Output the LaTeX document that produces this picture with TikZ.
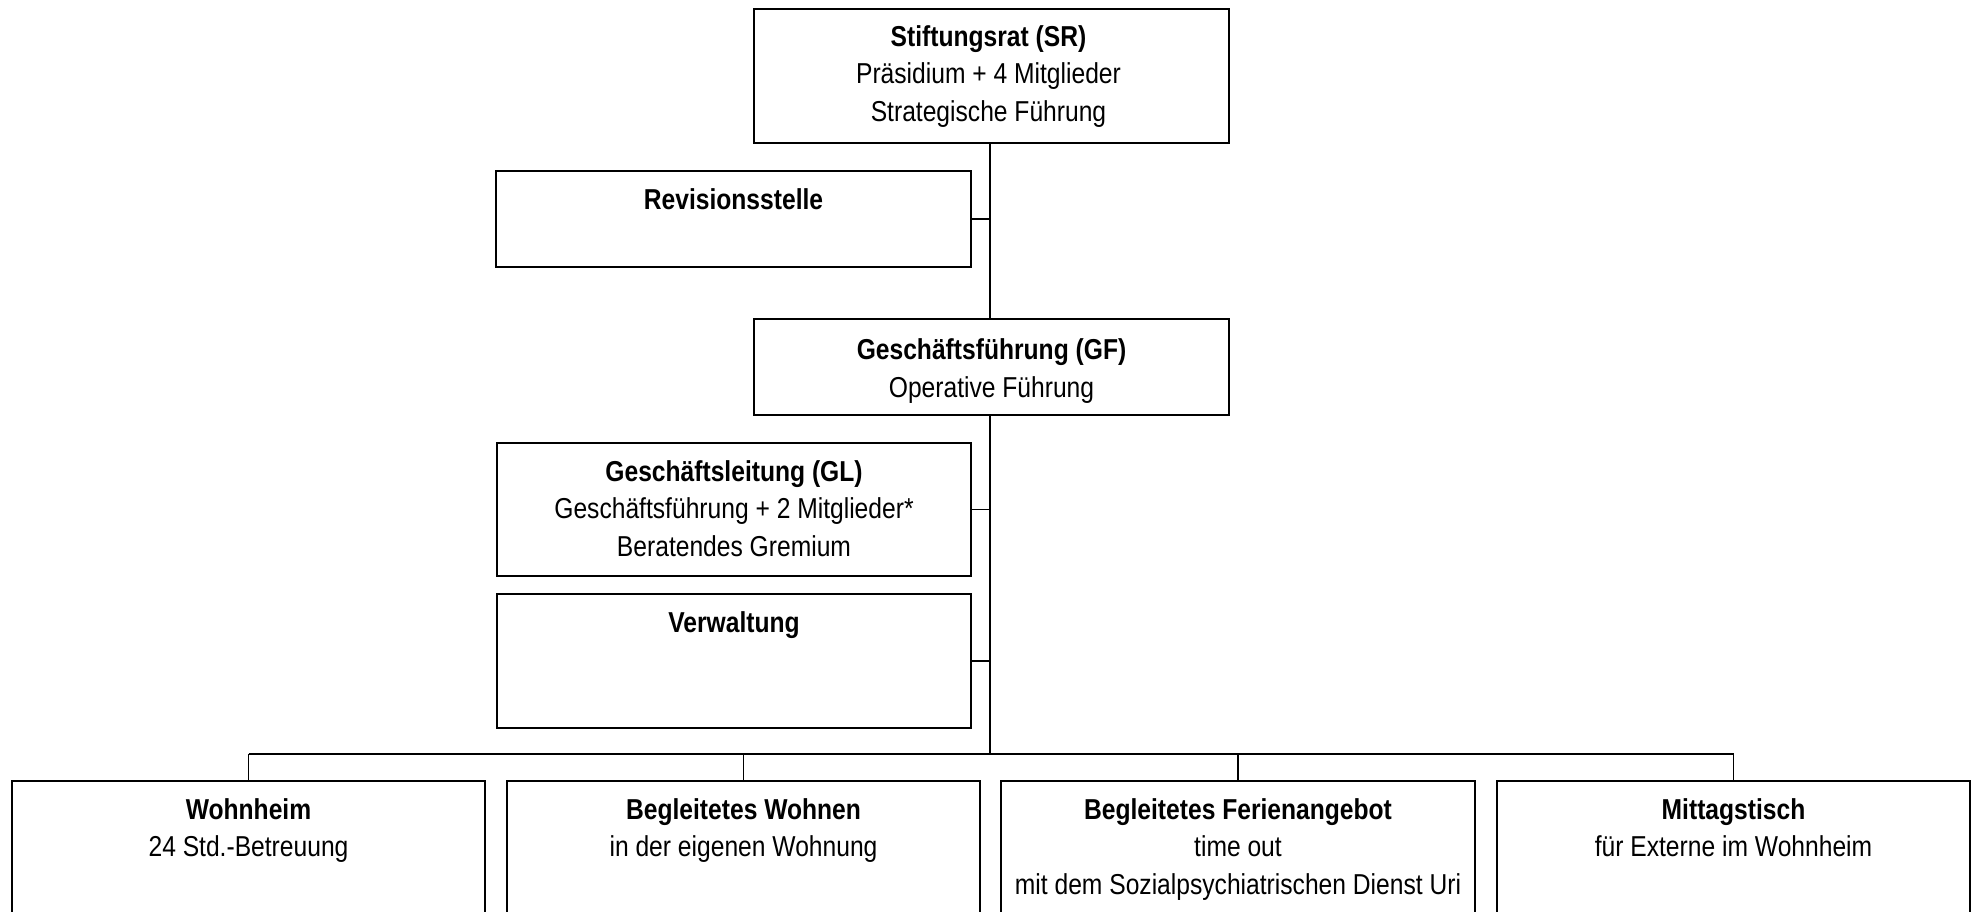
\documentclass[tikz,border=0pt]{standalone}
\usepackage{fontspec}
\setmainfont[FakeStretch=0.855]{Liberation Sans}
\usetikzlibrary{calc}
\tikzset{
  orgbox/.style={draw=black, line width=1.1pt, fill=white, inner sep=0pt, anchor=center},
  lbl/.style={inner sep=0pt, anchor=north, align=center, font=\fontsize{14.4}{18.75}\selectfont},
  conn/.style={draw=black, line width=0.7pt}
}
\begin{document}
\begin{tikzpicture}[x=0.5pt, y=-0.5pt]
\useasboundingbox (0,0) rectangle (1973,911);
\clip (0,0) rectangle (1973,911);
\fill[white] (0,0) rectangle (1973,911);

% boxes
\node[orgbox, minimum width=237.5pt, minimum height=67pt] (sr) at (991.5,76) {};
\node[orgbox, minimum width=237.5pt, minimum height=48pt] (rev) at (733.5,219) {};
\node[orgbox, minimum width=237.5pt, minimum height=48pt] (gf) at (991.5,367) {};
\node[orgbox, minimum width=237pt, minimum height=66.5pt] (gl) at (734,509.5) {};
\node[orgbox, minimum width=237pt, minimum height=67pt] (verw) at (734,661) {};
\node[orgbox, minimum width=236.5pt, minimum height=80pt] (wohn) at (248.5,861) {};
\node[orgbox, minimum width=236.5pt, minimum height=80pt] (begw) at (743.5,861) {};
\node[orgbox, minimum width=237pt, minimum height=80pt] (fer) at (1238,861) {};
\node[orgbox, minimum width=236.5pt, minimum height=80pt] (mit) at (1733.5,861) {};

% labels
\node[lbl] (sr-t) at ($(sr.north)+(-3,11.75)$) {\strut\textbf{Stiftungsrat (SR)}\\Präsidium + 4 Mitglieder\\Strategische Führung};
\node[lbl] (rev-t) at ($(rev.north)+(0,12.5)$) {\strut\textbf{Revisionsstelle}};
\node[lbl] (gf-t) at ($(gf.north)+(0,15)$) {\strut\textbf{Geschäftsführung (GF)}\\Operative Führung};
\node[lbl] (gl-t) at ($(gl.north)+(0,12.5)$) {\strut\textbf{Geschäftsleitung (GL)}\\Geschäftsführung + 2 Mitglieder*\\Beratendes Gremium};
\node[lbl] (verw-t) at ($(verw.north)+(0,12.5)$) {\strut\textbf{Verwaltung}};
\node[lbl] (wohn-t) at ($(wohn.north)+(0,12.5)$) {\strut\textbf{Wohnheim}\\24 Std.-Betreuung};
\node[lbl] (begw-t) at ($(begw.north)+(0,12.5)$) {\strut\textbf{Begleitetes Wohnen}\\in der eigenen Wohnung};
\node[lbl] (fer-t) at ($(fer.north)+(0,12.5)$) {\strut\textbf{Begleitetes Ferienangebot}\\time out\\mit dem Sozialpsychiatrischen Dienst Uri};
\node[lbl] (mit-t) at ($(mit.north)+(0,12.5)$) {\strut\textbf{Mittagstisch}\\für Externe im Wohnheim};

% connectors
\coordinate (bus) at (990,754);
\coordinate (spine) at (990,0);
\draw[conn] (sr.south -| spine) -- (gf.north -| spine);
\draw[conn] (gf.south -| spine) -- (bus);
\draw[conn] (rev.east) -- (rev.east -| spine);
\draw[conn] (gl.east) -- (gl.east -| spine);
\draw[conn] (verw.east) -- (verw.east -| spine);
\draw[conn] (wohn.north |- bus) -- (mit.north |- bus);
\draw[conn] (wohn.north) -- (wohn.north |- bus);
\draw[conn] (begw.north) -- (begw.north |- bus);
\draw[conn] (fer.north) -- (fer.north |- bus);
\draw[conn] (mit.north) -- (mit.north |- bus);
\end{tikzpicture}
\end{document}
